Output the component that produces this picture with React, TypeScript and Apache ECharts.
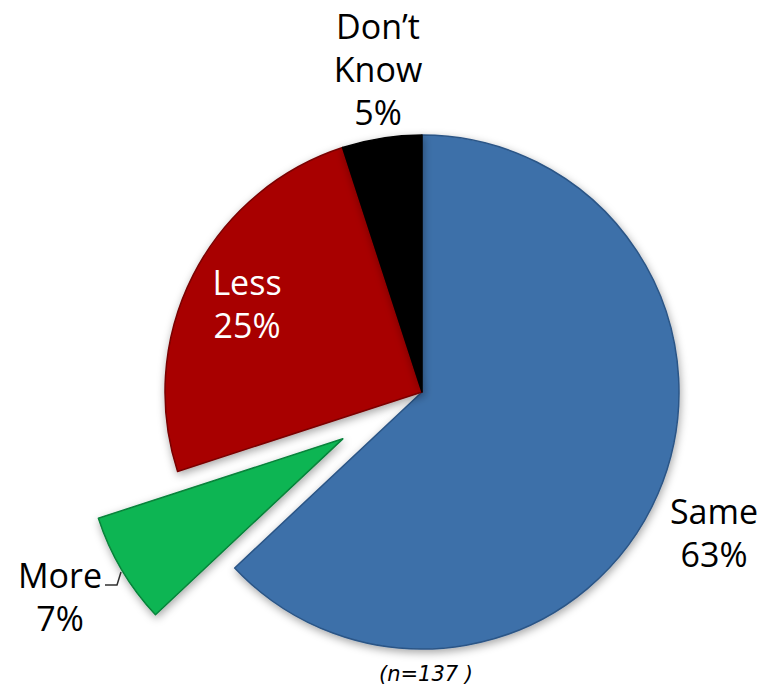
import React, { useEffect, useRef } from "react";
import * as echarts from "echarts";

const categories = ["Same", "More", "Less", "Don’t Know"];
const values = [63, 7, 25, 5];
const sampleNote = "(n=137 )";

const colors = ["#3d70a9", "#0db553", "#a80000", "#050505"];
const borders = ["#2b5586", "#07833a", "#7a0000", "#000000"];
const labelColors = ["#000000", "#000000", "#ffffff", "#000000"];
const labelPos: [number, number][] = [
  [714, 532],
  [60, 596],
  [247, 303],
  [378, 69],
];

const fmt = (name: string, value: number) => `${name.replace(" ", "\n")}\n${value}%`;

export default function App() {
  const ref = useRef<HTMLDivElement>(null);
  useEffect(() => {
    if (!ref.current) return;
    const chart = echarts.init(ref.current, null, { renderer: "svg" });
    const data = categories.map((name, i) => ({
      name,
      value: values[i],
      selected: name === "More",
      itemStyle: {
        color: colors[i],
        borderColor: borders[i],
      },
      label: { color: labelColors[i], show: name !== "More" },
    }));
    const moreIdx = categories.indexOf("More");
    chart.setOption({
      animation: false,
      backgroundColor: "#ffffff",
      series: [
        {
          type: "pie",
          center: [422, 392],
          radius: 257,
          startAngle: 90,
          clockwise: true,
          selectedMode: "single",
          selectedOffset: 92,
          avoidLabelOverlap: false,
          emphasis: { disabled: true },
          itemStyle: {
            borderWidth: 1.5,
            shadowBlur: 8,
            shadowColor: "rgba(0,0,0,0.35)",
            shadowOffsetX: 1,
            shadowOffsetY: 3,
          },
          label: {
            show: true,
            position: "inside",
            fontFamily: "Open Sans",
            fontSize: 34,
            lineHeight: 43,
            align: "center",
            verticalAlign: "middle",
            formatter: (p: any) => fmt(p.name, p.value),
          },
          labelLine: { show: false },
          labelLayout: (p: any) => {
            const pos = labelPos[p.dataIndex];
            return { x: pos[0], y: pos[1], align: "center", verticalAlign: "middle" };
          },
          data,
        },
      ],
      graphic: [
        {
          type: "text",
          x: labelPos[moreIdx][0],
          y: labelPos[moreIdx][1],
          style: {
            text: fmt(categories[moreIdx], values[moreIdx]),
            fontFamily: "Open Sans",
            fontSize: 34,
            lineHeight: 43,
            fill: labelColors[moreIdx],
            align: "center",
            verticalAlign: "middle",
          },
          z: 10,
        },
        {
          type: "polyline",
          shape: { points: [[105, 585], [117, 585], [121, 572]] },
          style: { stroke: "#303030", lineWidth: 1.5, fill: "none" },
          z: 10,
        },
        {
          type: "text",
          x: 426,
          y: 674,
          style: {
            text: sampleNote,
            fontFamily: "DejaVu Sans",
            fontStyle: "italic",
            fontSize: 21,
            fill: "#000000",
            align: "center",
            verticalAlign: "middle",
          },
        },
      ],
    });
    return () => chart.dispose();
  }, []);
  return (
    <div
      ref={ref}
      style={{ position: "absolute", left: 0, top: 0, width: 768, height: 688 }}
    />
  );
}
